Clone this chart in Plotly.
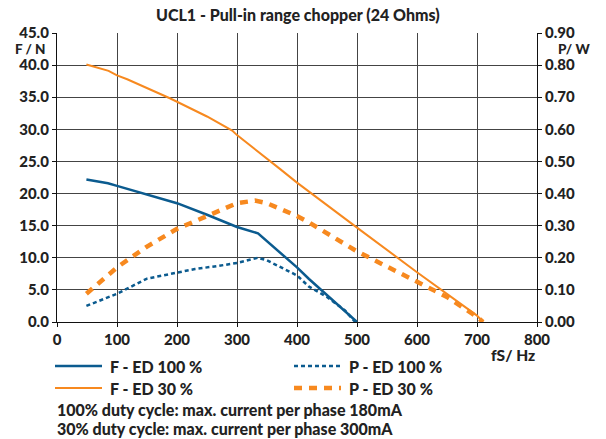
import plotly.graph_objects as go

# ---- data ----
f100_x = [49, 85, 100, 150, 200, 250, 300, 335, 400, 420, 500]
f100_y = [22.2, 21.6, 21.2, 19.9, 18.5, 16.7, 14.8, 13.8, 8.5, 6.7, 0.0]

p100_x = [49, 100, 150, 200, 230, 270, 300, 335, 350, 400, 420, 450, 480, 497]
p100_y = [0.05, 0.088, 0.135, 0.155, 0.165, 0.175, 0.184, 0.200, 0.192, 0.145, 0.11, 0.078, 0.036, 0.0]

f30_x = [49, 86, 100, 117, 189, 200, 250, 292, 300, 372, 400, 500, 600, 700, 710]
f30_y = [40.1, 39.1, 38.4, 37.8, 34.8, 34.3, 32.0, 29.8, 29.1, 23.8, 21.7, 14.7, 7.75, 1.0, 0.0]

p30_x = [49, 100, 150, 200, 250, 300, 330, 350, 400, 420, 500, 600, 650, 700, 710]
p30_y = [0.088, 0.17, 0.235, 0.29, 0.33, 0.37, 0.378, 0.37, 0.33, 0.31, 0.22, 0.124, 0.078, 0.016, 0.0]

x_ticks = [0, 100, 200, 300, 400, 500, 600, 700, 800]
f_ticks = [0, 5, 10, 15, 20, 25, 30, 35, 40, 45]
p_ticks = [0, 0.1, 0.2, 0.3, 0.4, 0.5, 0.6, 0.7, 0.8, 0.9]

names = ["F - ED 100 %", "P - ED 100 %", "F - ED 30 %", "P - ED 30 %"]

BLUE = "#0b5b8f"
ORANGE = "#f7891f"
FONT = "Lato"
TXT = "#222222"

styles = [
    dict(color=BLUE, width=2.5),
    dict(color=BLUE, width=2.5, dash="4px,3px"),
    dict(color=ORANGE, width=2),
    dict(color=ORANGE, width=4.5, dash="8px,7px"),
]

fig = go.Figure()
fig.add_trace(go.Scatter(x=f100_x, y=f100_y, mode="lines", name=names[0], line=styles[0]))
fig.add_trace(go.Scatter(x=p100_x, y=p100_y, mode="lines", name=names[1], yaxis="y2", line=styles[1]))
fig.add_trace(go.Scatter(x=f30_x, y=f30_y, mode="lines", name=names[2], line=styles[2]))
fig.add_trace(go.Scatter(x=p30_x, y=p30_y, mode="lines", name=names[3], yaxis="y2", line=styles[3]))

bold = lambda s: dict(family=FONT, size=s, color=TXT, weight=900)
axfont = bold(15)

L, R, T, B = 57, 606 - 69, 33, 439 - 117
px2x = lambda px: (px - L) / (R - L)
px2y = lambda py: (B - py) / (B - T)

annotations = []
shapes = []


def ann(text, px, py, anchor="left", size=16):
    annotations.append(dict(text=text, x=px2x(px), y=px2y(py), xref="paper", yref="paper",
                            xanchor=anchor, yanchor="middle", showarrow=False, font=bold(size)))


ann("UCL1 - Pull-in range chopper (24 Ohms)", 298, 15, "center", 16)
ann("F / N", 48, 48.5, "right", 13.5)
ann("P/ W", 556, 48.5, "left", 13.5)
ann("fS/ Hz", 513, 355, "center", 15.5)
ann("100% duty cycle: max. current per phase 180mA", 55, 409, "left", 16)
ann("30% duty cycle: max. current per phase 300mA", 55, 428, "left", 16)

# legend (two columns, two rows)
leg_pos = [(55, 366), (294, 366), (55, 388), (294, 388)]
for (lx, ly), nm, st in zip(leg_pos, names, styles):
    shapes.append(dict(type="line", xref="paper", yref="paper",
                       x0=px2x(lx), x1=px2x(lx + 47), y0=px2y(ly), y1=px2y(ly), line=st))
    ann(nm, lx + 53, ly, "left", 16)

fig.update_layout(
    width=606, height=439,
    margin=dict(l=L, r=69, t=T, b=117, autoexpand=False),
    paper_bgcolor="white", plot_bgcolor="white",
    font=dict(family=FONT, size=13, color=TXT),
    showlegend=False,
    xaxis=dict(range=[0, 800], tickvals=x_ticks, ticktext=[str(v) for v in x_ticks],
               showgrid=True, gridcolor="#444444", gridwidth=1,
               showline=True, linecolor="#111", linewidth=1.2,
               ticks="outside", ticklen=4, tickcolor="#111",
               tickfont=axfont, zeroline=False, automargin=False),
    yaxis=dict(range=[0, 45], tickvals=f_ticks, ticktext=[f"{v:.1f}" for v in f_ticks],
               showgrid=True, gridcolor="#444444", gridwidth=1,
               showline=True, linecolor="#111", linewidth=1.2,
               ticks="outside", ticklen=4, tickcolor="#111",
               tickfont=axfont, zeroline=False, automargin=False),
    yaxis2=dict(range=[0, 0.9], overlaying="y", side="right",
                tickvals=p_ticks, ticktext=[f"{v:.2f}" for v in p_ticks],
                showgrid=False, showline=True, linecolor="#111", linewidth=1.2,
                ticks="outside", ticklen=4, tickcolor="#111",
                tickfont=axfont, zeroline=False, automargin=False),
    annotations=annotations,
    shapes=shapes,
)

fig.write_html("out.html", config={"displayModeBar": False},
               post_script="document.body.style.margin='0';document.body.style.overflow='hidden';")
